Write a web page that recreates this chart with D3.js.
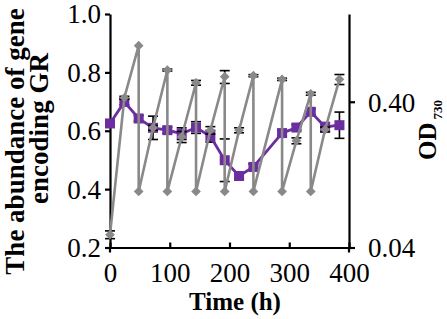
<!DOCTYPE html>
<html>
<head>
<meta charset="utf-8">
<script src="https://cdn.jsdelivr.net/npm/d3@7"></script>
<style>
  body { margin: 0; background: #fff; }
  svg { display: block; }
  text { font-family: "Liberation Serif", "DejaVu Serif", serif; fill: #000; }
</style>
</head>
<body>
<div id="chart"></div>
<script>
// gene abundance (left axis)
const geneTime = [0, 24, 48, 72, 96, 120, 144, 168, 192, 216, 240, 288, 312, 336, 360, 384];
const geneValue = [0.625, 0.699, 0.642, 0.610, 0.602, 0.590, 0.611, 0.581, 0.499, 0.445, 0.476, 0.592, 0.611, 0.665, 0.613, 0.619];
const geneErr = [0.01, 0.01, 0.01, 0.04, 0.01, 0.02, 0.02, 0.02, 0.073, 0.01, 0.01, 0.01, 0.01, 0.01, 0.015, 0.045];

// OD730 (right axis, log) - dilution points appear twice
const odTime = [0, 24, 48, 48, 72, 96, 96, 120, 144, 144, 168, 192, 192, 216, 240, 240, 288, 288, 312, 336, 336, 360, 384];
const odValue = [0.049, 0.426, 0.97, 0.097, 0.265, 0.66, 0.097, 0.23, 0.54, 0.097, 0.255, 0.594, 0.097, 0.255, 0.604, 0.097, 0.57, 0.097, 0.216, 0.454, 0.097, 0.258, 0.57];
const odErr = [0.003, 0.01, 0, 0, 0.01, 0.01, 0, 0.02, 0.02, 0, 0.015, 0.06, 0, 0.01, 0.01, 0, 0.01, 0, 0.01, 0.01, 0, 0.01, 0.045];

const xTicks = [0, 100, 200, 300, 400];
const leftTicks = [0.2, 0.4, 0.6, 0.8, 1.0];
const rightTicks = [0.04, 0.40];

const width = 447, height = 319;
const purple = "#6b2ea0", grey = "#898989";

const svg = d3.select("#chart").append("svg")
  .attr("width", width).attr("height", height);

const x = d3.scaleLinear().domain([0, 400]).range([110, 349]);
const yL = d3.scaleLinear().domain([0.2, 1.0]).range([247.5, 14]);
const yR = d3.scaleLog().domain([0.04, 1.6]).range([247.5, 14]);

// axes
const axisFont = "27px";
const gL = svg.append("g").attr("transform", `translate(${x(0)},0)`)
  .call(d3.axisLeft(yL).tickValues(leftTicks).tickSize(5).tickSizeOuter(0).tickFormat(d3.format(".1f")));
const gR = svg.append("g").attr("transform", `translate(${x(400)},0)`)
  .call(d3.axisRight(yR).tickValues(rightTicks).tickSize(6).tickSizeOuter(0).tickFormat(d3.format(".2f")));
const gB = svg.append("g").attr("transform", `translate(0,${yL(0.2)})`)
  .call(d3.axisBottom(x).tickValues(xTicks).tickSizeInner(-5).tickSizeOuter(0).tickPadding(15));

[gL, gR, gB].forEach(g => {
  g.select(".domain").attr("stroke", "#000").attr("stroke-width", 2.2);
  g.selectAll(".tick line").attr("stroke", "#000").attr("stroke-width", 2.2);
  g.selectAll(".tick text").style("font-size", axisFont)
    .style("font-family", "Liberation Serif").attr("fill", "#000");
});
gL.selectAll(".tick text").attr("x", -9).attr("dy", "0.33em");
gR.selectAll(".tick text").attr("x", 19).attr("dy", "0.35em");
gB.selectAll(".tick text").attr("dy", "0.71em");

// small extensions of vertical axes below the baseline
svg.append("line").attr("x1", x(0)).attr("x2", x(0)).attr("y1", yL(0.2)).attr("y2", yL(0.2) + 5)
  .attr("stroke", "#000").attr("stroke-width", 2.2);
svg.append("line").attr("x1", x(400)).attr("x2", x(400)).attr("y1", yL(0.2)).attr("y2", yL(0.2) + 5)
  .attr("stroke", "#000").attr("stroke-width", 2.2);

// error bars helper
function errBars(times, vals, errs, yScale) {
  const g = svg.append("g").attr("stroke", "#000").attr("stroke-width", 1.6);
  times.forEach((t, i) => {
    if (!errs[i]) return;
    const cx = x(t), y1 = yScale(vals[i] + errs[i]), y2 = yScale(vals[i] - errs[i]);
    g.append("line").attr("x1", cx).attr("x2", cx).attr("y1", y1).attr("y2", y2);
    g.append("line").attr("x1", cx - 5).attr("x2", cx + 5).attr("y1", y1).attr("y2", y1);
    g.append("line").attr("x1", cx - 5).attr("x2", cx + 5).attr("y1", y2).attr("y2", y2);
  });
}

// gene abundance series
const geneData = geneTime.map((t, i) => ({ t, v: geneValue[i] }));
errBars(geneTime, geneValue, geneErr, yL);
svg.append("path").datum(geneData)
  .attr("fill", "none").attr("stroke", purple).attr("stroke-width", 2.8)
  .attr("d", d3.line().x(d => x(d.t)).y(d => yL(d.v)));
svg.selectAll(".sq").data(geneData).enter().append("rect")
  .attr("x", d => x(d.t) - 5).attr("y", d => yL(d.v) - 5)
  .attr("width", 10).attr("height", 10).attr("fill", purple);

// OD series
const odData = odTime.map((t, i) => ({ t, v: odValue[i] }));
errBars(odTime, odValue, odErr, yR);
svg.append("path").datum(odData)
  .attr("fill", "none").attr("stroke", grey).attr("stroke-width", 2.6)
  .attr("d", d3.line().x(d => x(d.t)).y(d => yR(d.v)));
svg.selectAll(".dm").data(odData).enter().append("path")
  .attr("d", d3.symbol().type(d3.symbolDiamond2).size(60))
  .attr("transform", d => `translate(${x(d.t)},${yR(d.v)})`)
  .attr("fill", grey);

// titles
svg.append("text").attr("x", 235).attr("y", 310)
  .attr("text-anchor", "middle").style("font-size", "25px").style("font-weight", "bold")
  .text("Time (h)");

svg.append("text").attr("transform", "translate(24,141.5) rotate(-90)")
  .attr("text-anchor", "middle").style("font-size", "27px").style("font-weight", "bold")
  .text("The abundance of gene");
svg.append("text").attr("transform", "translate(48,128.5) rotate(-90)")
  .attr("text-anchor", "middle").style("font-size", "27px").style("font-weight", "bold")
  .text("encoding GR");

const rt = svg.append("text").attr("transform", "translate(436,130) rotate(-90)")
  .attr("text-anchor", "middle").style("font-weight", "bold");
rt.append("tspan").style("font-size", "25px").text("OD");
rt.append("tspan").style("font-size", "13px").attr("dy", 6).attr("dx", 3).text("730");
</script>
</body>
</html>
